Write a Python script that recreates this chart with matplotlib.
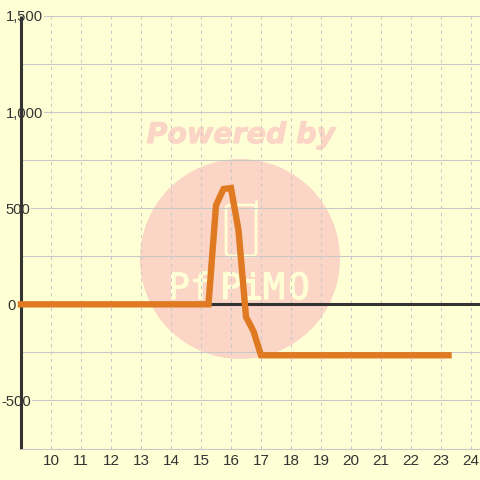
import matplotlib
matplotlib.use('Agg')
import matplotlib.pyplot as plt
import matplotlib.patheffects as pe
from matplotlib.patches import Circle, FancyBboxPatch
from matplotlib.ticker import FixedLocator, NullFormatter

hours = [9, 15.25, 15.5, 15.75, 16, 16.25, 16.5, 16.75, 17, 23.25]
values = [0, 0, 515, 600, 605, 385, -65, -140, -265, -265]
x_ticks = list(range(10, 25))
y_ticks = [-500, 0, 500, 1000, 1500]
y_labels = ['-500', '0', '500', '1,000', '1,500']
y_minor = [-750, -250, 250, 750, 1250]
label_shift = [10, -5, 9, 22, 22]  # right edge of each y label, px from the axis

logo_letters = ['P', 'f', 'P', 'i', 'M', 'O']
logo_x = [179, 201, 231, 252, 274, 299]

BG = '#FFFFD5'
INK = '#333333'
GRID = '#C8C8C8'
ORANGE = '#DF7A22'
PINK = '#FBD5C5'

fig = plt.figure(figsize=(4.8, 4.8), dpi=100, facecolor=BG)
ax = fig.add_axes([21 / 480, 31.5 / 480, 459 / 480, 432.5 / 480], facecolor=BG)
ax.set_xlim(9, 24.3)
ax.set_ylim(-750, 1500)

for s in ['top', 'right']:
    ax.spines[s].set_visible(False)
ax.spines['left'].set_color(INK)
ax.spines['left'].set_linewidth(2.2)
ax.spines['left'].set_capstyle('butt')
ax.spines['bottom'].set_color(GRID)
ax.spines['bottom'].set_linewidth(0.75)

ax.xaxis.set_major_locator(FixedLocator(x_ticks))
ax.yaxis.set_major_locator(FixedLocator(y_ticks + y_minor))
ax.yaxis.set_major_formatter(NullFormatter())
ax.tick_params(length=0)
ax.tick_params(axis='x', labelsize=11, labelcolor=INK, pad=4)
for lab in ax.get_xticklabels():
    lab.set_fontfamily('Liberation Sans')

ax.grid(axis='y', color=GRID, lw=0.75)
ax.grid(axis='x', color=GRID, lw=0.75, ls=(0, (3, 4)))
ax.set_axisbelow(True)
ax.axhline(0, color=INK, lw=2.2, zorder=2)

# watermark, in pixels of the figure
wm = fig.add_axes([0, 0, 1, 1], facecolor='none', zorder=1)
wm.set_xlim(0, 480)
wm.set_ylim(480, 0)
wm.axis('off')
ax.set_zorder(2)
ax.patch.set_visible(False)
wm.add_patch(Circle((240, 259), 100, fc=PINK, ec='none'))
wm.add_patch(FancyBboxPatch((226, 205), 30, 51, boxstyle='round,pad=0,rounding_size=4',
                            fc='none', ec=BG, lw=2))
wm.plot([256, 256], [201, 210], color=BG, lw=2, solid_capstyle='round')
wm.text(241, 135, 'Powered by', color=PINK, fontsize=20.5, fontweight='bold', fontstyle='italic',
        family='DejaVu Sans', ha='center', va='center',
        path_effects=[pe.withStroke(linewidth=0.8, foreground=PINK)])
for letter, px in zip(logo_letters, logo_x):
    wm.text(px, 289, letter, color=BG, fontsize=26, family='DejaVu Sans Mono', ha='center', va='center',
            path_effects=[pe.withStroke(linewidth=0.8, foreground=BG)])

ax.plot(hours, values, color=ORANGE, lw=4.6, solid_joinstyle='miter', solid_capstyle='projecting',
        zorder=3, clip_on=False)

# y labels sit on top of the axis with a background patch
for v, t, dx in zip(y_ticks, y_labels, label_shift):
    ax.annotate(t, xy=(9, v), xytext=(dx, -1.5), textcoords='offset pixels', fontsize=10.6, color=INK,
                family='Liberation Sans', ha='right', va='center', zorder=2.5, annotation_clip=False,
                bbox=dict(fc=BG, ec='none', pad=1))

fig.savefig('out.png', dpi=100, facecolor=BG)
